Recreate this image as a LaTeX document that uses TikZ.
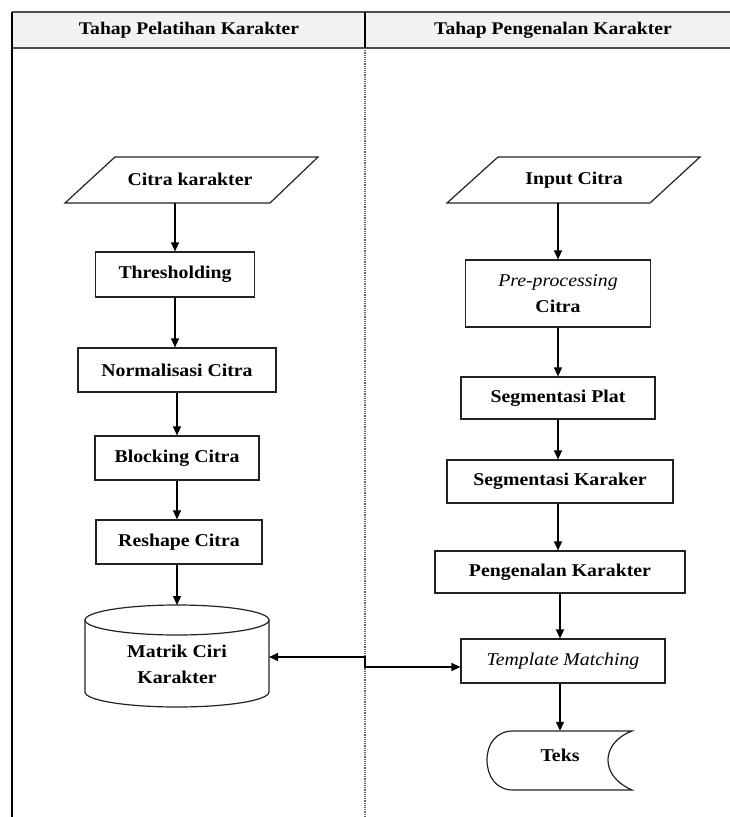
\documentclass[tikz,border=0pt]{standalone}
\usepackage{fontspec}
\setmainfont{Liberation Serif}[FakeStretch=1.1]
\usetikzlibrary{arrows.meta,calc}
\definecolor{headfill}{HTML}{F2F2F2}
\definecolor{lineclr}{HTML}{222222}
\begin{document}
\begin{tikzpicture}[x=1pt,y=-1pt,
  txt/.style={font=\fontsize{18}{26}\selectfont\bfseries, align=center, inner sep=0pt},
  box/.style={txt, draw=lineclr, line width=1.2pt},
  shp/.style={draw=lineclr, line width=1.2pt},
  arr/.style={-{Triangle[length=9pt,width=8pt]}, line width=1.3pt, black},
  arrboth/.style={{Triangle[length=9pt,width=8pt]}-{Triangle[length=9pt,width=8pt]}, line width=1.3pt, black},
  headtxt/.style={font=\fontsize{17.8}{20}\selectfont\bfseries, inner sep=0pt}]
\useasboundingbox (0,0) rectangle (730,817);
% header and lanes
\fill[headfill] (12,12) rectangle (735,48);
\draw[gray!60!black, line width=1.6pt] (12,12) -- (735,12);
\draw[gray!60!black, line width=1.6pt] (12,48) -- (735,48);
\draw[black, line width=1.2pt] (12,12) -- (12,817);
\draw[black, line width=1.2pt] (365,12) -- (365,48);
\draw[gray!80!black, line width=1.2pt, densely dotted] (365,48) -- (365,817);
\node[headtxt] (h1) at (189,30) {Tahap Pelatihan Karakter};
\node[headtxt] (h2) at (553,30) {Tahap Pengenalan Karakter};

% left column
\draw[shp] (115,157) -- (318,157) -- (270,203) -- (65,203) -- cycle;
\node[txt, minimum height=46] (ck) at (190,180) {\raisebox{2pt}{Citra karakter}};
\node[box, minimum width=159, minimum height=45] (th) at (175,274.5) {Thresholding};
\node[box, minimum width=198, minimum height=44] (nc) at (177,370) {Normalisasi Citra};
\node[box, minimum width=164, minimum height=44] (bc) at (177,458) {Blocking Citra};
\node[box, minimum width=166, minimum height=44] (rc) at (179,542) {Reshape Citra};
% cylinder
\draw[shp, fill=white] (85,620) -- (85,692) .. controls (85,700.3) and (126.2,707) .. (177,707)
   .. controls (227.8,707) and (269,700.3) .. (269,692) -- (269,620);
\draw[shp] (177,620) ellipse [x radius=92, y radius=15];
\node[txt, minimum width=184, minimum height=86] (db) at (177,664) {Matrik Ciri\\Karakter};

% right column
\draw[shp] (498,157) -- (700,157) -- (650,203) -- (447,203) -- cycle;
\node[txt, minimum height=46] (ic) at (574,180) {\raisebox{2pt}{Input Citra}};
\node[box, minimum width=185, minimum height=67] (pp) at (558,293.5) {{\itshape\mdseries Pre-processing}\\Citra};
\node[box, minimum width=194, minimum height=42] (sp) at (558,398) {Segmentasi Plat};
\node[box, minimum width=226, minimum height=43] (sk) at (560,481.5) {Segmentasi Karaker};
\node[box, minimum width=250, minimum height=42] (pk) at (560,572) {Pengenalan Karakter};
\node[box, minimum width=204, minimum height=44] (tm) at (563,661) {{\itshape\mdseries Template Matching}};
% Teks (stored data shape)
\draw[shp] (513,731) -- (632,731) .. controls (614,738) and (608,750) .. (608,760)
   .. controls (608,770) and (614,782) .. (632,790) -- (513,790)
   .. controls (496,790) and (487,776) .. (487,760) .. controls (487,744) and (496,731) .. (513,731) -- cycle;
\node[txt, minimum width=145, minimum height=59] (tk) at (560,760.5) {\raisebox{10pt}{Teks}};

% connectors left
\draw[arr] (ck.south -| th.north) -- (th.north);
\draw[arr] (th.south) -- (th.south |- nc.north);
\draw[arr] (nc.south) -- (nc.south |- bc.north);
\draw[arr] (bc.south) -- (bc.south |- rc.north);
\draw[arr] (rc.south -| bc.south) -- (bc.south |- 0,605);
% connectors right
\draw[arr] (ic.south -| pp.north) -- (pp.north);
\draw[arr] (pp.south) -- (pp.south |- sp.north);
\draw[arr] (sp.south) -- (sp.south |- sk.north);
\draw[arr] (sp.south |- sk.south) -- (sp.south |- pk.north);
\draw[arr] (pk.south) -- (pk.south |- tm.north);
\draw[arr] (tk.north |- tm.south) -- (tk.north);
% cross-lane double arrow
\coordinate (mid) at (365,657);
\draw[arrboth] (269,657) -- (mid) -- (365,667) -- (tm.west |- 0,667);
\end{tikzpicture}
\end{document}
